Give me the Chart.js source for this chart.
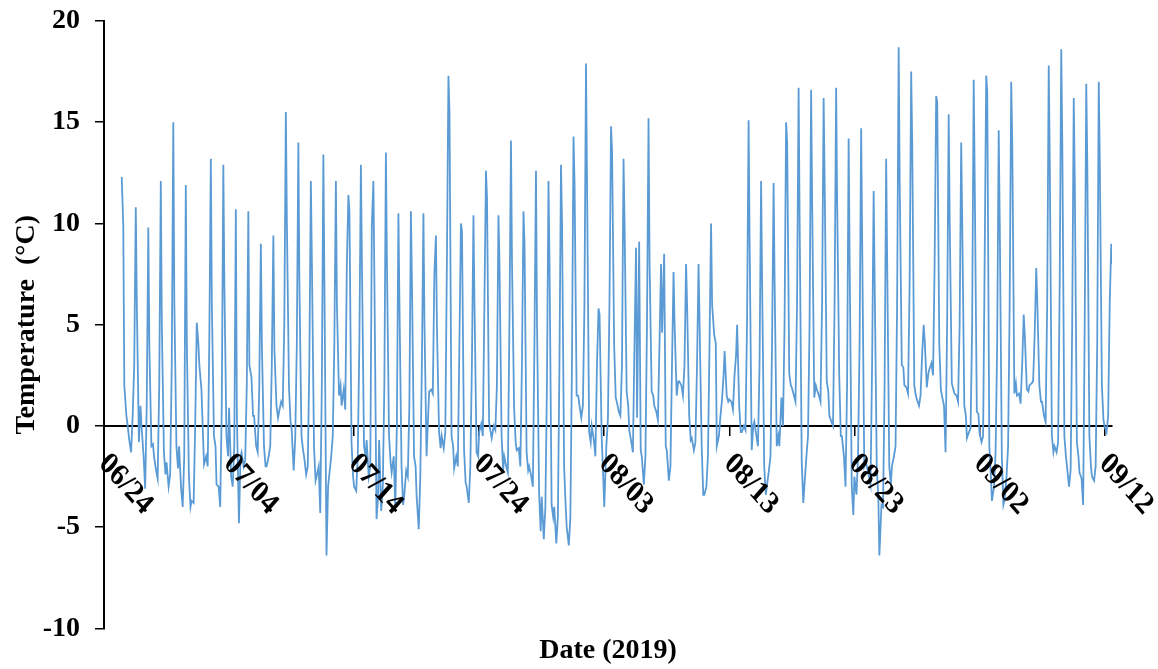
<!DOCTYPE html>
<html>
<head>
<meta charset="utf-8">
<script src="https://cdn.jsdelivr.net/npm/chart.js@4.4.1/dist/chart.umd.min.js"></script>
<style>
  html, body { margin: 0; padding: 0; background: #fff; }
  #wrap { width: 1158px; height: 669px; }
</style>
</head>
<body>
<div id="wrap"><canvas id="c" width="1158" height="669"></canvas></div>
<script>
// Axis ticks: days after 06/24 and their labels
const tickDays = [0, 10, 20, 30, 40, 50, 60, 70, 80];
const tickLabels = ['06/24', '07/04', '07/14', '07/24', '08/03', '08/13', '08/23', '09/02', '09/12'];

// Hours of the day at which temperatures are listed
const sampleHours = [0, 4, 7, 10, 13, 15, 19, 22];

// Temperature (°C) per day, 06/25 (day 1) to 09/12 (day 80), one array per sampled hour
const t00 = [null, -0.6, 0.0, -1.5, -1.8, -1.0, -3.7, -1.9, -2.9, 0.9,
  -1.3, 0.5, -2.0, 0.7, -0.1, -1.5, -2.5, -2.5, 1.0, -3.0,
  -0.7, -0.7, -2.3, -3.5, -3.5, 1.7, -0.5, -2.1, -3.0, -0.3,
  -0.6, -1.5, -1.2, -2.0, -3.5, -4.0, -5.0, 1.1, 0.0, -4.0,
  1.2, -0.2, -1.5, 1.0, -1.2, 2.2, -0.6, -3.4, -1.0, 1.3,
  -0.3, 0.2, -3.0, -1.0, 1.9, -3.0, 1.8, 0.5, -0.5, -2.5,
  -2.0, -6.4, -2.0, 2.0, 1.3, 2.8, 1.5, 1.6, -0.6, -0.3,
  -3.7, -3.7, 1.5, 2.0, 1.2, -1.0, -2.0, -2.3, -2.5, 0.0];
const t04 = [null, -1.3, -1.5, -2.2, -3.0, -3.1, -3.8, -1.5, -3.0, -2.5,
  -2.0, -1.0, -1.5, 1.2, -2.2, -2.4, -2.0, -1.5, 1.8, -3.2,
  -2.5, -4.2, -1.5, -2.2, -5.1, 1.8, -1.1, -1.5, -3.8, 0.1,
  0.0, -2.0, -1.1, -2.5, -5.6, -5.8, -5.9, 0.4, -0.7, -1.0,
  0.7, -0.8, -2.9, 0.7, -2.7, 2.0, -1.2, -3.0, -0.5, 1.2,
  0.0, -0.5, -2.2, 1.4, 1.5, -1.5, 1.5, 0.2, -1.5, -3.4,
  -2.5, -3.9, -1.5, 1.9, 1.0, 3.1, 1.0, 1.5, -0.3, -0.8,
  -3.0, -2.5, 1.6, 2.1, 0.5, -1.3, -3.0, -2.6, -2.7, -0.3];
const t07 = [null, 0.5, -3.1, -2.6, -2.4, -4.0, 0.0, -2.0, -4.0, -3.0,
  -1.7, -1.3, -1.0, 1.0, -0.6, -2.0, -4.3, -0.5, 0.8, -1.5,
  -2.0, -3.0, -4.0, -2.5, -2.5, 1.6, -0.3, -2.0, -2.0, -0.5,
  -0.2, -2.3, -2.0, -3.0, -4.0, -4.5, -4.5, 1.0, -1.5, 0.3,
  0.5, -1.3, -1.5, 0.3, -2.0, 1.5, -0.8, -1.5, 0.5, 0.8,
  -0.2, -1.0, -1.5, 0.0, 1.2, -0.5, 1.2, 0.0, -3.0, -1.5,
  -2.9, -4.0, -1.0, 1.6, 1.5, 2.5, -1.3, 1.2, -0.1, -0.5,
  -1.3, -1.0, 1.1, 2.2, 0.2, -0.8, -2.2, -3.9, -2.0, 0.5];
const t10 = [12.3, 3.0, 1.0, 2.0, 3.0, -1.5, 5.1, 4.0, 1.0, -1.0,
  2.0, 2.0, 3.0, 5.0, 4.0, 3.0, 2.0, 4.0, 7.9, 4.0,
  9.9, 2.0, 0.0, 1.0, 3.0, 7.5, 8.0, 4.0, 3.0, 6.0,
  2.0, 5.0, 3.0, 4.0, 2.0, 3.0, 3.0, 6.0, 3.0, 6.0,
  3.0, 4.0, 5.0, 4.0, 3.0, 3.0, 3.0, 4.0, 1.3, 2.5,
  5.0, 3.0, 4.0, 5.0, 6.0, 5.0, 6.0, 6.0, 2.0, 4.0,
  3.0, 2.0, 6.0, 7.0, 3.5, 8.0, 5.0, 5.0, 5.0, 8.0,
  4.0, 6.0, 3.0, 4.5, 6.0, 7.0, 5.0, 5.0, 4.0, 6.0];
const t13 = [9.9, 10.8, 9.8, 12.1, 15.0, 11.9, 4.1, 13.2, 12.9, 10.7,
  10.6, 9.0, 9.4, 15.5, 14.0, 12.1, 13.4, 12.1, 11.4, 12.9,
  12.1, 13.5, 10.5, 10.6, 10.5, 9.4, 17.3, 10.0, 10.4, 12.6,
  10.4, 14.1, 10.6, 12.6, 12.1, 12.9, 14.3, 17.9, 5.8, 14.8,
  13.2, 8.8, 15.2, 8.0, 7.6, 8.0, 8.0, 10.0, 2.5, 3.5,
  15.1, 12.1, 12.0, 15.0, 16.7, 16.6, 16.2, 16.7, 14.2, 14.7,
  11.6, 13.2, 18.7, 17.5, 5.0, 16.3, 15.4, 14.0, 17.1, 17.3,
  14.6, 17.0, 5.5, 7.8, 17.8, 18.6, 16.2, 16.9, 17.0, 9.0];
const t15 = [2.0, 6.0, 4.0, 5.0, 6.0, 4.0, 3.0, 6.0, 7.0, 0.5,
  3.0, 4.0, 3.8, 10.0, 7.0, 8.0, 7.0, 6.0, 10.6, 8.0,
  7.0, 8.0, 6.0, 7.0, 5.0, 4.8, 15.5, 9.6, 6.0, 11.3,
  8.0, 8.0, 9.0, 5.0, 8.0, 10.0, 12.0, 12.0, 5.5, 13.6,
  10.0, 0.4, 8.0, 4.6, 5.0, 6.0, 5.0, 6.0, 3.7, 5.0,
  9.0, 7.0, 7.0, 14.0, 10.0, 11.0, 12.0, 11.0, 8.0, 9.0,
  7.0, 8.0, 12.0, 14.0, 4.2, 16.0, 10.0, 10.0, 12.0, 16.5,
  10.0, 14.0, 4.5, 6.2, 13.0, 14.0, 12.0, 13.0, 13.0, 8.0];
const t19 = [0.5, -0.8, -1.0, -1.3, -1.0, -2.5, 1.8, -0.5, -0.5, -4.8,
  2.4, -1.0, 1.0, 1.9, -0.5, -1.0, -6.4, 1.5, -0.8, -1.0,
  -4.6, -0.5, -2.0, -1.5, -1.5, -0.3, -0.5, -1.2, -1.3, 0.2,
  -0.5, 0.9, -1.3, -3.3, -3.9, -2.0, 1.5, -0.3, -0.5, 4.0,
  1.7, 9.1, 1.7, 8.5, 1.5, 0.5, -1.0, 4.5, 1.5, 1.0,
  -1.2, -2.0, -1.0, 2.6, -1.8, 1.4, 2.2, 2.4, -3.0, -2.0,
  -2.1, -2.0, 3.0, 2.0, 1.9, 4.0, 2.1, 1.0, 0.7, -1.0,
  -1.5, 1.6, 1.8, 2.0, -0.5, -0.5, -0.8, -0.5, 2.0, null];
const t22 = [-0.1, 1.0, -0.9, -2.4, -2.1, -4.0, -0.5, -1.0, -1.5, -1.5,
  0.5, -2.0, 0.4, 0.2, -1.2, -2.7, -3.0, 2.0, -2.5, -1.5,
  -3.5, -1.8, -3.9, -2.0, 0.5, -1.1, -1.0, -2.8, -1.5, -0.3,
  -2.2, -0.8, -2.2, -5.2, -4.5, -4.0, 1.5, -0.8, -2.5, 1.4,
  1.0, -1.2, 1.5, -1.0, 2.2, -0.7, -3.4, 4.1, 1.2, -0.3,
  0.0, -3.4, -0.5, 2.0, -3.8, 2.0, 1.7, -0.5, -4.4, -1.8,
  -3.5, -2.9, 2.9, 1.5, 2.6, 1.8, 1.8, 0.5, 0.6, -2.5,
  -3.9, 2.1, 1.7, 1.2, -1.3, -1.5, -1.5, -2.0, 0.3, null];

const byHour = [t00, t04, t07, t10, t13, t15, t19, t22];
const firstDay = 1;

// Time series in days since 06/24
const series = [];
for (let i = 0; i < t13.length; i++) {
  for (let h = 0; h < sampleHours.length; h++) {
    const v = byHour[h][i];
    if (v !== null) series.push({ x: firstDay + i + sampleHours[h] / 24, y: v });
  }
}

const serif = '"Liberation Serif", "Times New Roman", serif';

// Rotated date labels hanging below the 0 °C axis line
const dateLabels = {
  id: 'dateLabels',
  afterDraw(chart) {
    const xs = chart.scales.x, ys = chart.scales.y, ctx = chart.ctx;
    const y0 = ys.getPixelForValue(0);
    ctx.save();
    ctx.font = 'bold 28px ' + serif;
    ctx.fillStyle = '#000';
    ctx.textAlign = 'left';
    ctx.textBaseline = 'middle';
    tickDays.forEach((d, i) => {
      ctx.save();
      ctx.translate(xs.getPixelForValue(d) - 1, y0 + 33);
      ctx.scale(1, 1.13);
      ctx.rotate(Math.PI / 4);
      ctx.fillText(tickLabels[i], 0, 0);
      ctx.restore();
    });
    ctx.restore();
  }
};

new Chart(document.getElementById('c'), {
  type: 'line',
  data: {
    datasets: [{
      data: series,
      borderColor: '#5B9BD5',
      borderWidth: 1.8,
      pointRadius: 0,
      tension: 0,
      fill: false
    }]
  },
  options: {
    responsive: false,
    animation: false,
    layout: { padding: { left: 0, right: 46, top: 21, bottom: 0 } },
    plugins: {
      legend: { display: false },
      tooltip: { enabled: false },
      title: {
        display: true,
        text: 'Date (2019)',
        position: 'bottom',
        fullSize: false,
        color: '#000',
        font: { family: serif, size: 28, weight: 'bold' },
        padding: { top: 6, bottom: 1 }
      }
    },
    scales: {
      x: {
        type: 'linear',
        position: { y: 0 },
        min: 0,
        max: 80.6,
        z: 1,
        afterBuildTicks(scale) { scale.ticks = tickDays.map(v => ({ value: v })); },
        ticks: { display: false, includeBounds: false },
        grid: { display: true, drawOnChartArea: false, drawTicks: true, tickLength: 9, color: '#000', lineWidth: 1.5 },
        border: { display: true, color: '#000', width: 2 }
      },
      y: {
        position: 'left',
        min: -10,
        max: 20,
        z: 1,
        afterFit(scale) {
          scale.width = 104;
          scale.paddingTop = 0;
          scale.paddingBottom = 0;
        },
        ticks: {
          stepSize: 5,
          padding: 15,
          color: '#000',
          font: { family: serif, size: 28, weight: 'bold' }
        },
        grid: { display: true, drawOnChartArea: false, drawTicks: true, tickLength: 9, color: '#000', lineWidth: 1.5 },
        border: { display: true, color: '#000', width: 2 },
        title: {
          display: true,
          text: 'Temperature  (°C)',
          color: '#000',
          font: { family: serif, size: 28, weight: 'bold' },
          padding: { top: 10, bottom: 0 }
        }
      }
    }
  },
  plugins: [dateLabels]
});
</script>
</body>
</html>
